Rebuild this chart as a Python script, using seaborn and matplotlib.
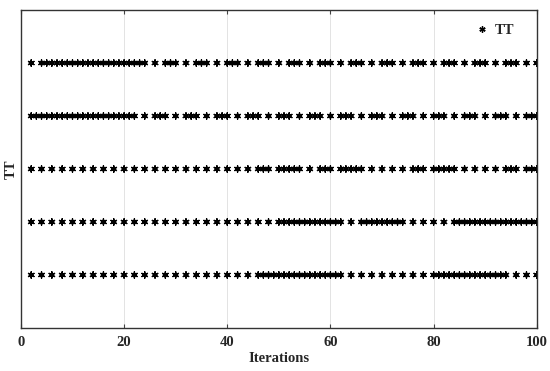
import matplotlib
matplotlib.use("Agg")
import matplotlib.pyplot as plt
import seaborn as sns
import pandas as pd

# Iterations at which a marker is drawn, one list per row (row 1 = bottom)
row1 = [2, 4, 6, 8, 10, 12, 14, 16, 18, 20, 22, 24, 26, 28, 30, 32, 34, 36, 38, 40,
        42, 44, 46, 47, 48, 49, 50, 51, 52, 53, 54, 55, 56, 57, 58, 59, 60, 61, 62,
        64, 66, 68, 70, 72, 74, 76, 78, 80, 81, 82, 83, 84, 85, 86, 87, 88, 89, 90,
        91, 92, 93, 94, 96, 98, 100]
row2 = [2, 4, 6, 8, 10, 12, 14, 16, 18, 20, 22, 24, 26, 28, 30, 32, 34, 36, 38, 40,
        42, 44, 46, 48, 50, 51, 52, 53, 54, 55, 56, 57, 58, 59, 60, 61, 62,
        64, 66, 67, 68, 69, 70, 71, 72, 73, 74, 76, 78, 80, 82, 84, 85, 86, 87,
        88, 89, 90, 91, 92, 93, 94, 95, 96, 97, 98, 99, 100]
row3 = [2, 4, 6, 8, 10, 12, 14, 16, 18, 20, 22, 24, 26, 28, 30, 32, 34, 36, 38, 40,
        42, 44, 46, 47, 48, 50, 51, 52, 53, 54, 56, 58, 59, 60, 62, 63, 64, 65, 66,
        68, 70, 72, 74, 76, 77, 78, 80, 81, 82, 83, 84, 86, 88, 90, 92, 94, 95, 96,
        98, 99, 100]
row4 = [2, 3, 4, 5, 6, 7, 8, 9, 10, 11, 12, 13, 14, 15, 16, 17, 18, 19, 20, 21, 22,
        24, 26, 27, 28, 30, 32, 33, 34, 36, 38, 39, 40, 42, 44, 45, 46, 48, 50, 51,
        52, 54, 56, 57, 58, 60, 62, 63, 64, 66, 68, 69, 70, 72, 74, 75, 76, 78, 80,
        81, 82, 84, 86, 87, 88, 90, 92, 93, 94, 96, 98, 99, 100]
row5 = [2, 4, 5, 6, 7, 8, 9, 10, 11, 12, 13, 14, 15, 16, 17, 18, 19, 20, 21, 22, 23,
        24, 26, 28, 29, 30, 32, 34, 35, 36, 38, 40, 41, 42, 44, 46, 47, 48, 50, 52,
        53, 54, 56, 58, 59, 60, 62, 64, 65, 66, 68, 70, 71, 72, 74, 76, 77, 78, 80,
        82, 83, 84, 86, 88, 89, 90, 92, 94, 95, 96, 98, 100]

rows = [row1, row2, row3, row4, row5]
row_levels = [1, 2, 3, 4, 5]
series_name = "TT"
x_ticks = [0, 20, 40, 60, 80, 100]

records = []
for lvl, its in zip(row_levels, rows):
    for it in its:
        records.append({"Iterations": it, "TT": lvl, "series": series_name})
df = pd.DataFrame(records)

sns.set_style("white")
plt.rcParams["font.family"] = ["Liberation Serif", "DejaVu Serif"]
plt.rcParams["font.weight"] = "bold"

fig = plt.figure(figsize=(5.5, 3.71), dpi=100)
ax = fig.add_axes([0.038, 0.116, 0.938, 0.857])

sns.scatterplot(data=df, x="Iterations", y="TT", hue="series",
                palette=["black"], marker=(6, 2, 0), s=20, linewidth=1.0,
                ax=ax, legend=True)

ax.set_xlim(0, 100)
ax.set_ylim(0, 6)
ax.set_xticks(x_ticks)
ax.set_xticklabels([str(t) for t in x_ticks], fontsize=10.5, fontweight="bold")
ax.set_yticks([])
ax.set_xlabel("Iterations", fontsize=10.5, fontweight="bold", labelpad=2)
ax.set_ylabel("TT", fontsize=10.5, fontweight="bold", labelpad=2)

ax.grid(axis="x", color="#e3e3e3", linewidth=0.7)
ax.set_axisbelow(True)
ax.tick_params(axis="x", direction="in", top=True, bottom=True, length=3,
               width=0.8, color="#444444", pad=6)
for sp in ax.spines.values():
    sp.set_color("#333333")
    sp.set_linewidth(1.0)

leg = ax.legend(loc="upper right", bbox_to_anchor=(0.996, 1.022), frameon=False,
                fontsize=10.5, handletextpad=0.1, handlelength=1.6,
                borderaxespad=1.0, markerscale=1.0)
for t in leg.get_texts():
    t.set_fontweight("bold")

fig.savefig("out.png", dpi=100)
